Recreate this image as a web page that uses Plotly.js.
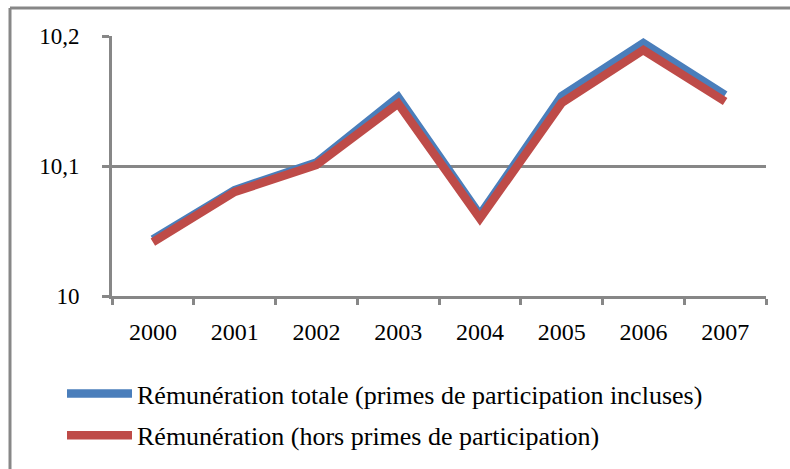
<!DOCTYPE html>
<html>
<head>
<meta charset="utf-8">
<script src="https://cdn.plot.ly/plotly-3.0.1.min.js"></script>
<style>body{margin:0;padding:0;background:#fff}</style>
</head>
<body>
<div id="chart" style="width:790px;height:469px"></div>
<script>
const years = ['2000','2001','2002','2003','2004','2005','2006','2007'];
const totale = [10.0435, 10.0815, 10.1027, 10.1530, 10.0623, 10.1538, 10.1946, 10.1546];
const horsPrimes = [10.0415, 10.0800, 10.1008, 10.1480, 10.0596, 10.1485, 10.1892, 10.1496];
const yTickVals = [10, 10.1, 10.2];
const yTickText = ['10', '10,1', '10,2'];
const names = ['Rémunération totale (primes de participation incluses)', 'Rémunération (hors primes de participation)'];

const gray = '#878787';
const font = "'Liberation Serif', 'Times New Roman', serif";

const traces = [
  {x: years, y: totale, name: names[0], type: 'scatter', mode: 'lines',
   line: {color: '#4A7EBB', width: 8.5}, legendgroup: 'a'},
  {x: years, y: horsPrimes, name: names[1], type: 'scatter', mode: 'lines',
   line: {color: '#BE4B48', width: 8.5}, legendgroup: 'b'}
];

const W = 790, H = 469, L = 112, R = 766, T = 36, B = 296;
function px(v){ return (v - L) / (R - L); }
function py(v){ return (B - v) / (B - T); }

const layout = {
  width: W, height: H,
  margin: {l: L, r: W - R, t: T, b: H - B, autoexpand: false},
  paper_bgcolor: '#fff', plot_bgcolor: '#fff',
  font: {family: font, color: '#000', size: 22},
  showlegend: true,
  legend: {
    xref: 'container', yref: 'container',
    x: 62 / W, y: 1 - 370 / H, xanchor: 'left', yanchor: 'top',
    font: {family: font, size: 26, color: '#000'},
    itemwidth: 65, tracegroupgap: 5, bgcolor: 'rgba(0,0,0,0)'
  },
  xaxis: {
    type: 'category', range: [-0.5, 7.5],
    showgrid: false, zeroline: false,
    showline: true, linecolor: gray, linewidth: 3,
    ticks: 'outside', ticklen: 6, tickwidth: 3, tickcolor: gray,
    tickson: 'boundaries', ticklabelstandoff: 12, tickangle: 0,
    tickfont: {family: font, size: 24, color: '#000'}
  },
  yaxis: {
    range: [10, 10.2], tickvals: yTickVals, ticktext: yTickText,
    showgrid: true, gridcolor: gray, gridwidth: 3, zeroline: false,
    showline: true, linecolor: gray, linewidth: 3,
    ticks: 'outside', ticklen: 7, tickwidth: 3, tickcolor: gray,
    ticklabelstandoff: 18,
    tickfont: {family: font, size: 23, color: '#000'}
  },
  shapes: [
    {type: 'line', xref: 'paper', yref: 'paper', x0: px(10), x1: px(10), y0: py(8), y1: py(480), line: {color: gray, width: 3}},
    {type: 'line', xref: 'paper', yref: 'paper', x0: px(10), x1: px(800), y0: py(8), y1: py(8), line: {color: gray, width: 3}}
  ]
};

Plotly.newPlot('chart', traces, layout, {displayModeBar: false, staticPlot: true});
</script>
</body>
</html>
